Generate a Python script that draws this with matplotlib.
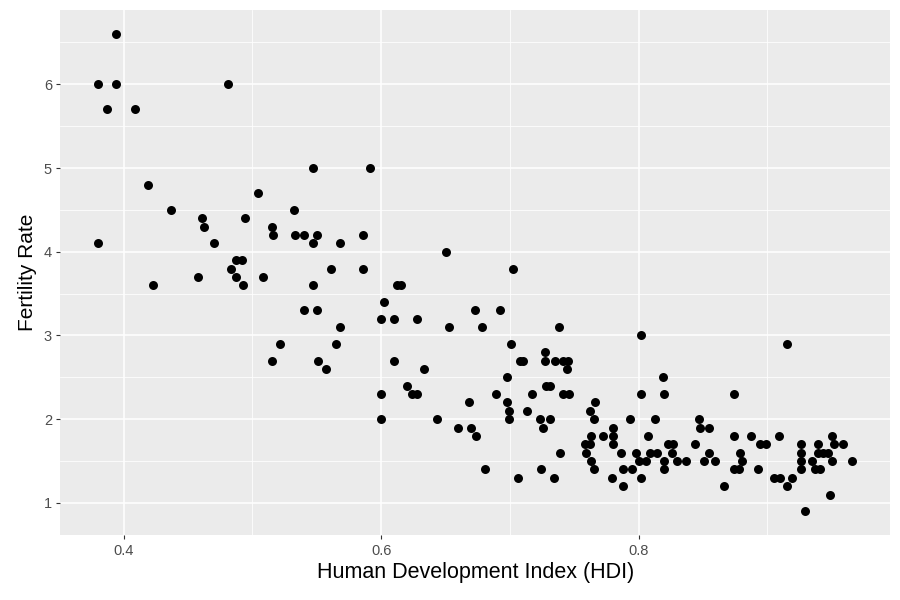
import numpy as np
import matplotlib
matplotlib.use("Agg")
import matplotlib.pyplot as plt

plt.rcParams['font.family'] = ['Liberation Sans', 'DejaVu Sans']

# HDI and fertility rate
hdi = [
    0.394, 0.380, 0.394, 0.481, 0.387, 0.409, 0.419, 0.437, 0.504, 0.461,
    0.462, 0.494, 0.515, 0.516, 0.380, 0.470, 0.487, 0.492, 0.483, 0.487,
    0.458, 0.508, 0.493, 0.423,
    0.547, 0.591, 0.532, 0.533, 0.540, 0.550, 0.547, 0.568, 0.586, 0.561,
    0.586, 0.547, 0.612, 0.615, 0.602, 0.540, 0.550, 0.600, 0.610, 0.628,
    0.568, 0.521, 0.565, 0.515, 0.551, 0.610, 0.557, 0.633, 0.620, 0.624,
    0.628, 0.600,
    0.650, 0.702, 0.673, 0.692, 0.653, 0.678, 0.738, 0.701, 0.727, 0.708,
    0.710, 0.727, 0.735, 0.741, 0.745, 0.744, 0.698, 0.728, 0.731, 0.689,
    0.717, 0.741, 0.746, 0.668, 0.698, 0.699, 0.713, 0.600, 0.643, 0.699,
    0.723, 0.731, 0.660, 0.670, 0.726, 0.674, 0.739, 0.681, 0.724, 0.706,
    0.734,
    0.802, 0.819, 0.802, 0.820, 0.874, 0.766, 0.762, 0.765, 0.793, 0.813,
    0.847, 0.848, 0.855, 0.780, 0.763, 0.772, 0.780, 0.807, 0.874, 0.887,
    0.909, 0.758, 0.762, 0.780, 0.823, 0.827, 0.844, 0.894, 0.899, 0.759,
    0.786, 0.798, 0.809, 0.814, 0.826, 0.855, 0.879, 0.763, 0.800, 0.806,
    0.820, 0.830, 0.837, 0.851, 0.859, 0.880, 0.765, 0.788, 0.795, 0.820,
    0.874, 0.878, 0.893, 0.779, 0.802, 0.905, 0.910, 0.788, 0.866,
    0.915, 0.926, 0.939, 0.950, 0.952, 0.959, 0.926, 0.939, 0.943, 0.947,
    0.926, 0.935, 0.950, 0.966, 0.926, 0.937, 0.941, 0.919, 0.915, 0.949,
    0.929,
]
fertility = [
    6.6, 6.0, 6.0, 6.0, 5.7, 5.7, 4.8, 4.5, 4.7, 4.4,
    4.3, 4.4, 4.3, 4.2, 4.1, 4.1, 3.9, 3.9, 3.8, 3.7,
    3.7, 3.7, 3.6, 3.6,
    5.0, 5.0, 4.5, 4.2, 4.2, 4.2, 4.1, 4.1, 4.2, 3.8,
    3.8, 3.6, 3.6, 3.6, 3.4, 3.3, 3.3, 3.2, 3.2, 3.2,
    3.1, 2.9, 2.9, 2.7, 2.7, 2.7, 2.6, 2.6, 2.4, 2.3,
    2.3, 2.3,
    4.0, 3.8, 3.3, 3.3, 3.1, 3.1, 3.1, 2.9, 2.8, 2.7,
    2.7, 2.7, 2.7, 2.7, 2.7, 2.6, 2.5, 2.4, 2.4, 2.3,
    2.3, 2.3, 2.3, 2.2, 2.2, 2.1, 2.1, 2.0, 2.0, 2.0,
    2.0, 2.0, 1.9, 1.9, 1.9, 1.8, 1.6, 1.4, 1.4, 1.3,
    1.3,
    3.0, 2.5, 2.3, 2.3, 2.3, 2.2, 2.1, 2.0, 2.0, 2.0,
    2.0, 1.9, 1.9, 1.9, 1.8, 1.8, 1.8, 1.8, 1.8, 1.8,
    1.8, 1.7, 1.7, 1.7, 1.7, 1.7, 1.7, 1.7, 1.7, 1.6,
    1.6, 1.6, 1.6, 1.6, 1.6, 1.6, 1.6, 1.5, 1.5, 1.5,
    1.5, 1.5, 1.5, 1.5, 1.5, 1.5, 1.4, 1.4, 1.4, 1.4,
    1.4, 1.4, 1.4, 1.3, 1.3, 1.3, 1.3, 1.2, 1.2,
    2.9, 1.7, 1.7, 1.8, 1.7, 1.7, 1.6, 1.6, 1.6, 1.6,
    1.5, 1.5, 1.5, 1.5, 1.4, 1.4, 1.4, 1.3, 1.2, 1.1,
    0.9,
]

x_ticks = [0.4, 0.6, 0.8]
y_ticks = [1, 2, 3, 4, 5, 6]

fig = plt.figure(figsize=(9, 6), dpi=100)
ax = fig.add_axes([0.067, 0.108, 0.922, 0.875])

ax.set_facecolor('#EBEBEB')
ax.scatter(hdi, fertility, s=42, color='black', linewidths=0, zorder=3)

# ggplot-like expansion
xr = max(hdi) - min(hdi)
yr = max(fertility) - min(fertility)
ax.set_xlim(min(hdi) - 0.05 * xr, max(hdi) + 0.05 * xr)
ax.set_ylim(min(fertility) - 0.05 * yr, max(fertility) + 0.05 * yr)

ax.set_xticks(x_ticks)
ax.set_xticklabels([str(t) for t in x_ticks])
ax.set_yticks(y_ticks)
ax.set_xticks([0.5, 0.7, 0.9], minor=True)
ax.set_yticks([1.5, 2.5, 3.5, 4.5, 5.5, 6.5], minor=True)

ax.grid(which='major', color='white', linewidth=1.1, zorder=0)
ax.grid(which='minor', color='white', linewidth=0.55, zorder=0)
ax.set_axisbelow(True)

for s in ax.spines.values():
    s.set_visible(False)

ax.tick_params(which='major', length=3, color='#333333', labelcolor='#4D4D4D',
               labelsize=10.5, width=0.8, pad=3)
ax.tick_params(which='minor', length=0)

ax.set_xlabel('Human Development Index (HDI)', fontsize=15.5, labelpad=3)
ax.set_ylabel('Fertility Rate', fontsize=15, labelpad=5)

fig.savefig('out.png', dpi=100)
